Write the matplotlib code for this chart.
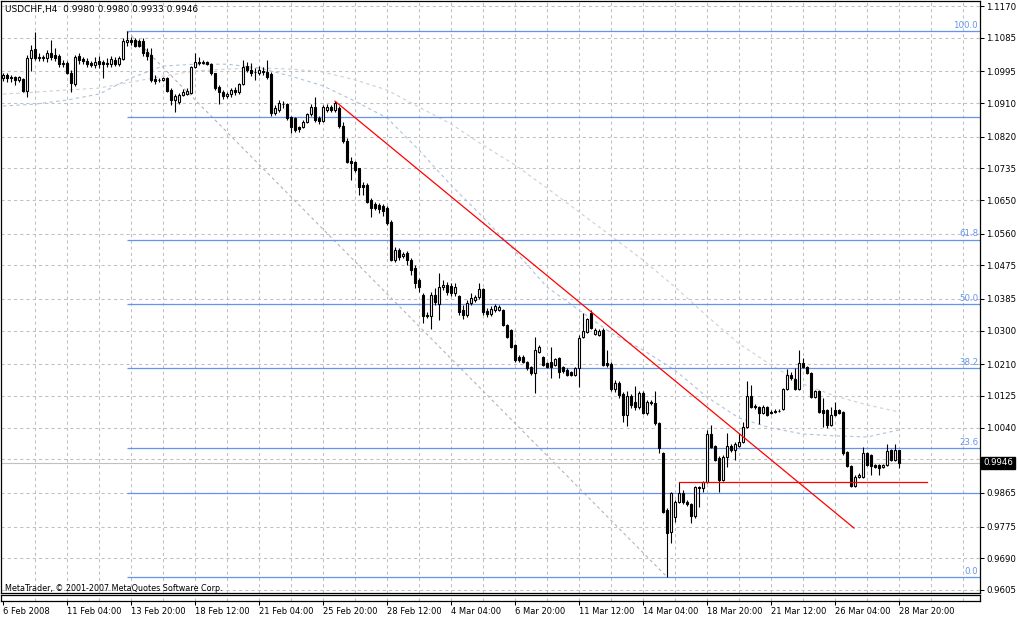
import matplotlib
matplotlib.use("Agg")
import matplotlib.pyplot as plt
import matplotlib.transforms as mtransforms
import numpy as np

plt.rcParams['font.family'] = ['DejaVu Sans']

# USDCHF H4 candles (225 bars)
opens = [
    1.0977, 1.0985, 1.0977, 1.0980, 1.0972, 1.0974, 1.0942, 1.1031, 1.1055, 1.1033,
    1.1031, 1.1031, 1.1044, 1.1039, 1.1036, 1.1017, 1.1017, 1.0990, 1.0961, 1.1036,
    1.1028, 1.1023, 1.1017, 1.1012, 1.1023, 1.1020, 1.1017, 1.1014, 1.1025, 1.1014,
    1.1028, 1.1073, 1.1079, 1.1079, 1.1076, 1.1076, 1.1047, 1.1039, 1.0974, 1.0972,
    1.0972, 1.0977, 1.0945, 1.0918, 1.0913, 1.0931, 1.0934, 1.0937, 1.1006, 1.1020,
    1.1017, 1.1020, 1.1014, 1.0990, 1.0953, 1.0939, 1.0929, 1.0934, 1.0945, 1.0939,
    1.0961, 1.1009, 1.0998, 1.0993, 1.0990, 1.0996, 1.0993, 1.0988, 1.0883, 1.0891,
    1.0907, 1.0907, 1.0872, 1.0870, 1.0846, 1.0846, 1.0859, 1.0880, 1.0899, 1.0870,
    1.0862, 1.0891, 1.0899, 1.0891, 1.0897, 1.0848, 1.0808, 1.0755, 1.0752, 1.0736,
    1.0690, 1.0690, 1.0650, 1.0639, 1.0637, 1.0634, 1.0629, 1.0591, 1.0489, 1.0516,
    1.0500, 1.0508, 1.0489, 1.0468, 1.0436, 1.0395, 1.0342, 1.0339, 1.0395, 1.0371,
    1.0417, 1.0422, 1.0420, 1.0401, 1.0393, 1.0355, 1.0342, 1.0374, 1.0382, 1.0390,
    1.0411, 1.0353, 1.0344, 1.0355, 1.0355, 1.0355, 1.0315, 1.0302, 1.0261, 1.0229,
    1.0229, 1.0216, 1.0202, 1.0186, 1.0243, 1.0229, 1.0213, 1.0216, 1.0208, 1.0227,
    1.0202, 1.0194, 1.0189, 1.0181, 1.0200, 1.0283, 1.0296, 1.0347, 1.0291, 1.0288,
    1.0302, 1.0213, 1.0210, 1.0144, 1.0160, 1.0130, 1.0074, 1.0125, 1.0109, 1.0095,
    1.0133, 1.0079, 1.0109, 1.0106, 1.0052, 0.9972, 0.9819, 0.9760, 0.9800, 0.9841,
    0.9865, 0.9841, 0.9835, 0.9803, 0.9881, 0.9878, 0.9894, 1.0023, 0.9991, 0.9959,
    0.9900, 0.9961, 0.9991, 0.9980, 0.9991, 1.0002, 1.0042, 1.0125, 1.0098, 1.0095,
    1.0079, 1.0095, 1.0082, 1.0085, 1.0085, 1.0090, 1.0144, 1.0181, 1.0170, 1.0144,
    1.0213, 1.0202, 1.0186, 1.0122, 1.0138, 1.0087, 1.0087, 1.0047, 1.0087, 1.0087,
    1.0082, 0.9975, 0.9937, 0.9884, 0.9908, 0.9908, 0.9972, 0.9967, 0.9940, 0.9940,
    0.9935, 0.9940, 0.9980, 0.9953, 0.9980,
]
highs = [
    1.0990, 1.0990, 1.0985, 1.0982, 1.0982, 1.0977, 1.1039, 1.1065, 1.1100, 1.1044,
    1.1039, 1.1052, 1.1079, 1.1057, 1.1041, 1.1025, 1.1023, 1.0998, 1.1039, 1.1044,
    1.1033, 1.1031, 1.1023, 1.1033, 1.1036, 1.1025, 1.1031, 1.1036, 1.1033, 1.1036,
    1.1084, 1.1103, 1.1087, 1.1084, 1.1081, 1.1084, 1.1057, 1.1057, 1.0985, 1.0977,
    1.0980, 1.0980, 1.0950, 1.0934, 1.0937, 1.0948, 1.0950, 1.1009, 1.1044, 1.1033,
    1.1025, 1.1023, 1.1017, 1.0990, 1.0958, 1.0945, 1.0939, 1.0950, 1.0953, 1.0964,
    1.1025, 1.1020, 1.1017, 1.1004, 1.1009, 1.1006, 1.1025, 1.0993, 1.0905, 1.0918,
    1.0915, 1.0910, 1.0875, 1.0872, 1.0848, 1.0864, 1.0883, 1.0907, 1.0926, 1.0875,
    1.0905, 1.0907, 1.0905, 1.0915, 1.0902, 1.0859, 1.0816, 1.0765, 1.0755, 1.0736,
    1.0698, 1.0696, 1.0655, 1.0645, 1.0642, 1.0639, 1.0634, 1.0596, 1.0524, 1.0521,
    1.0511, 1.0513, 1.0495, 1.0476, 1.0441, 1.0401, 1.0350, 1.0403, 1.0414, 1.0454,
    1.0436, 1.0430, 1.0428, 1.0428, 1.0395, 1.0369, 1.0382, 1.0401, 1.0395, 1.0428,
    1.0414, 1.0361, 1.0366, 1.0371, 1.0369, 1.0358, 1.0318, 1.0304, 1.0264, 1.0235,
    1.0235, 1.0219, 1.0205, 1.0283, 1.0261, 1.0232, 1.0216, 1.0256, 1.0227, 1.0229,
    1.0205, 1.0200, 1.0192, 1.0202, 1.0288, 1.0347, 1.0334, 1.0355, 1.0307, 1.0304,
    1.0307, 1.0248, 1.0216, 1.0168, 1.0165, 1.0135, 1.0138, 1.0130, 1.0152, 1.0138,
    1.0138, 1.0114, 1.0114, 1.0138, 1.0055, 0.9975, 0.9825, 0.9867, 0.9846, 0.9894,
    0.9873, 0.9846, 0.9838, 0.9884, 0.9884, 0.9897, 1.0034, 1.0047, 0.9993, 0.9964,
    0.9967, 1.0026, 0.9996, 1.0002, 1.0026, 1.0055, 1.0165, 1.0154, 1.0103, 1.0098,
    1.0101, 1.0098, 1.0087, 1.0090, 1.0090, 1.0146, 1.0197, 1.0189, 1.0200, 1.0248,
    1.0227, 1.0205, 1.0189, 1.0141, 1.0141, 1.0119, 1.0090, 1.0095, 1.0109, 1.0090,
    1.0085, 0.9977, 0.9940, 0.9913, 0.9918, 0.9988, 0.9975, 0.9969, 0.9943, 0.9943,
    0.9943, 0.9996, 0.9983, 0.9996, 0.9980,
]
lows = [
    1.0969, 1.0966, 1.0966, 1.0958, 1.0966, 1.0939, 1.0926, 1.0996, 1.1025, 1.1023,
    1.1023, 1.1020, 1.1025, 1.1023, 1.1006, 1.1006, 1.0988, 1.0939, 1.0956, 1.1014,
    1.1014, 1.1006, 1.1006, 1.1004, 1.1004, 1.0977, 1.1006, 1.1006, 1.1009, 1.1009,
    1.1025, 1.1063, 1.1065, 1.1060, 1.1060, 1.1036, 1.1025, 1.0966, 1.0961, 1.0966,
    1.0969, 1.0939, 1.0905, 1.0886, 1.0907, 1.0929, 1.0931, 1.0934, 1.1004, 1.1012,
    1.1014, 1.1012, 1.0985, 1.0945, 1.0907, 1.0921, 1.0923, 1.0926, 1.0931, 1.0934,
    1.0958, 1.0993, 1.0982, 1.0972, 1.0985, 1.0985, 1.0974, 1.0875, 1.0878, 1.0886,
    1.0897, 1.0864, 1.0830, 1.0832, 1.0832, 1.0843, 1.0856, 1.0875, 1.0859, 1.0854,
    1.0859, 1.0886, 1.0886, 1.0886, 1.0843, 1.0803, 1.0749, 1.0704, 1.0725, 1.0663,
    1.0663, 1.0642, 1.0604, 1.0623, 1.0615, 1.0607, 1.0583, 1.0487, 1.0484, 1.0489,
    1.0495, 1.0476, 1.0449, 1.0414, 1.0403, 1.0320, 1.0334, 1.0304, 1.0369, 1.0328,
    1.0409, 1.0395, 1.0393, 1.0393, 1.0342, 1.0331, 1.0336, 1.0369, 1.0377, 1.0385,
    1.0342, 1.0336, 1.0339, 1.0350, 1.0353, 1.0312, 1.0280, 1.0253, 1.0216, 1.0216,
    1.0213, 1.0194, 1.0181, 1.0133, 1.0240, 1.0205, 1.0200, 1.0173, 1.0205, 1.0173,
    1.0186, 1.0178, 1.0178, 1.0178, 1.0149, 1.0280, 1.0294, 1.0304, 1.0288, 1.0285,
    1.0205, 1.0202, 1.0138, 1.0135, 1.0119, 1.0055, 1.0044, 1.0093, 1.0087, 1.0090,
    1.0077, 1.0074, 1.0101, 1.0047, 0.9972, 0.9811, 0.9640, 0.9731, 0.9787, 0.9838,
    0.9835, 0.9830, 0.9784, 0.9798, 0.9827, 0.9867, 0.9892, 0.9985, 0.9951, 0.9867,
    0.9897, 0.9935, 0.9975, 0.9953, 0.9988, 0.9999, 1.0039, 1.0093, 1.0090, 1.0050,
    1.0077, 1.0071, 1.0077, 1.0079, 1.0082, 1.0087, 1.0141, 1.0168, 1.0141, 1.0141,
    1.0200, 1.0184, 1.0119, 1.0119, 1.0079, 1.0042, 1.0039, 1.0044, 1.0071, 1.0077,
    0.9967, 0.9935, 0.9881, 0.9881, 0.9905, 0.9905, 0.9937, 0.9913, 0.9932, 0.9913,
    0.9932, 0.9937, 0.9951, 0.9951, 0.9933,
]
closes = [
    1.0985, 1.0977, 1.0980, 1.0972, 1.0980, 1.0942, 1.1031, 1.1052, 1.1031, 1.1031,
    1.1033, 1.1044, 1.1033, 1.1031, 1.1014, 1.1014, 1.0990, 1.0964, 1.1033, 1.1025,
    1.1023, 1.1014, 1.1012, 1.1020, 1.1014, 1.1014, 1.1014, 1.1028, 1.1014, 1.1031,
    1.1076, 1.1079, 1.1073, 1.1063, 1.1063, 1.1044, 1.1036, 1.0972, 1.0969, 1.0972,
    1.0977, 1.0942, 1.0918, 1.0929, 1.0931, 1.0939, 1.0942, 1.1006, 1.1020, 1.1017,
    1.1020, 1.1014, 1.0990, 1.0950, 1.0939, 1.0929, 1.0934, 1.0945, 1.0939, 1.0961,
    1.1006, 1.0998, 1.0990, 1.0993, 1.0998, 1.0993, 1.0980, 1.0883, 1.0897, 1.0910,
    1.0907, 1.0870, 1.0846, 1.0838, 1.0840, 1.0859, 1.0880, 1.0899, 1.0864, 1.0862,
    1.0899, 1.0899, 1.0891, 1.0910, 1.0848, 1.0808, 1.0752, 1.0749, 1.0730, 1.0685,
    1.0685, 1.0645, 1.0629, 1.0629, 1.0626, 1.0621, 1.0588, 1.0489, 1.0516, 1.0497,
    1.0505, 1.0489, 1.0462, 1.0428, 1.0417, 1.0339, 1.0339, 1.0395, 1.0377, 1.0417,
    1.0422, 1.0403, 1.0401, 1.0417, 1.0350, 1.0342, 1.0374, 1.0387, 1.0390, 1.0411,
    1.0350, 1.0344, 1.0358, 1.0366, 1.0363, 1.0315, 1.0283, 1.0256, 1.0221, 1.0221,
    1.0216, 1.0200, 1.0186, 1.0248, 1.0256, 1.0208, 1.0202, 1.0202, 1.0224, 1.0189,
    1.0192, 1.0181, 1.0181, 1.0200, 1.0280, 1.0299, 1.0331, 1.0307, 1.0302, 1.0299,
    1.0208, 1.0208, 1.0144, 1.0160, 1.0127, 1.0074, 1.0125, 1.0101, 1.0095, 1.0133,
    1.0079, 1.0109, 1.0106, 1.0052, 0.9985, 0.9814, 0.9758, 0.9865, 0.9841, 0.9865,
    0.9841, 0.9835, 0.9803, 0.9881, 0.9878, 0.9894, 1.0023, 0.9988, 0.9953, 0.9900,
    0.9961, 0.9991, 0.9980, 0.9996, 1.0002, 1.0042, 1.0125, 1.0095, 1.0095, 1.0079,
    1.0095, 1.0074, 1.0079, 1.0082, 1.0084, 1.0144, 1.0181, 1.0173, 1.0144, 1.0213,
    1.0202, 1.0186, 1.0122, 1.0138, 1.0082, 1.0079, 1.0047, 1.0074, 1.0074, 1.0079,
    0.9972, 0.9937, 0.9884, 0.9908, 0.9913, 0.9972, 0.9940, 0.9937, 0.9935, 0.9932,
    0.9940, 0.9977, 0.9953, 0.9980, 0.9946,
]

# two dotted moving averages, read every 8 bars
ma_bars = list(range(0, 225, 8))
ma_fast = [1.0902, 1.0907, 1.0918, 1.0934, 1.0977, 1.1009, 1.1014, 1.1014, 1.1004, 1.0982,
           1.0956, 1.0915, 1.0870, 1.0784, 1.0690, 1.0604, 1.0513, 1.0417, 1.0355, 1.0294,
           1.0248, 1.0194, 1.0122, 1.0066, 1.0039, 1.0023, 1.0018, 1.0015, 1.0034]
ma_slow = [1.0934, 1.0939, 1.0945, 1.0950, 1.0966, 1.0982, 1.0996, 1.1001, 1.1004, 1.1001,
           1.0993, 1.0972, 1.0945, 1.0899, 1.0854, 1.0797, 1.0744, 1.0682, 1.0618, 1.0554,
           1.0489, 1.0417, 1.0339, 1.0265, 1.0208, 1.0157, 1.0125, 1.0101, 1.0082]

# fibo retracement anchors (bar, price)
fib_start = (31, 1.1103)
fib_end = (166, 0.9640)
fib_ratios = [100.0, 61.8, 50.0, 38.2, 23.6, 0.0]
extra_levels = [1.0872, 0.9866]

# red trend line and red horizontal
trend_pts = ([83, 212.75], [1.0915, 0.9771])
hline_pts = ([169, 231], [0.9895, 0.9895])

bid = 0.9946
header = "USDCHF,H4  0.9980 0.9980 0.9933 0.9946"

y_ticks = [1.1170, 1.1085, 1.0995, 1.0910, 1.0820, 1.0735, 1.0650, 1.0560, 1.0475,
           1.0385, 1.0300, 1.0210, 1.0125, 1.0040, 0.9865, 0.9775, 0.9690, 0.9605]
grid_prices = y_ticks + [0.9955]
x_label_bars = list(range(0, 225, 16))
x_labels = ["6 Feb 2008", "11 Feb 04:00", "13 Feb 20:00", "18 Feb 12:00", "21 Feb 04:00",
            "25 Feb 20:00", "28 Feb 12:00", "4 Mar 04:00", "6 Mar 20:00", "11 Mar 12:00",
            "14 Mar 04:00", "18 Mar 20:00", "21 Mar 12:00", "26 Mar 04:00", "28 Mar 20:00"]

W, H = 1018, 619
fig = plt.figure(figsize=(W / 100, H / 100), dpi=100)


def px_axes(x0, y0, x1, y1):
    return fig.add_axes([x0 / W, 1 - y1 / H, (x1 - x0) / W, (y1 - y0) / H])


ax = px_axes(1, 1, 980, 593)
sub = px_axes(1, 595, 980, 601)

xmin, xmax = -0.5, -0.5 + 979 / 4
ax.set_xlim(xmin, xmax)
ax.set_ylim(0.95969, 1.11834)
sub.set_xlim(xmin, xmax)
sub.set_ylim(0, 1)

grid_col = "#c0c0c0"
dash = (0, (3, 3))
for b in range(8, 245, 8):
    ax.axvline(b, color=grid_col, lw=0.75, ls=dash, zorder=0)
    sub.axvline(b, color=grid_col, lw=0.75, ls=dash, zorder=0)
for p in grid_prices:
    ax.axhline(p, color=grid_col, lw=0.75, ls=dash, zorder=0)

# moving averages
ax.plot(ma_bars, ma_slow, color="#cfcfcf", lw=0.8, ls=dash, zorder=1)
ax.plot(ma_bars, ma_fast, color="#aec2dc", lw=0.8, ls=dash, zorder=1)

# fibo
fib_col = "#6495ed"
lo, hi = fib_end[1], fib_start[1]
ax.plot([fib_start[0], fib_end[0]], [fib_start[1], fib_end[1]], color="#b0b0b0", lw=0.75, ls=dash, zorder=1)
trans = mtransforms.blended_transform_factory(ax.transAxes, ax.transData)
for r in fib_ratios:
    lev = lo + r / 100 * (hi - lo)
    ax.hlines(lev, fib_start[0], xmax, color=fib_col, lw=0.9, zorder=2)
    ax.text(0.998, lev + 0.0003, "%.1f" % r, transform=trans, ha="right", va="bottom",
            color=fib_col, fontsize=6.2)
for lev in extra_levels:
    ax.hlines(lev, fib_start[0], xmax, color=fib_col, lw=0.9, zorder=2)

# bid line
ax.axhline(bid, color="#c0c0c0", lw=0.8, zorder=1)

# candles
x = np.arange(len(closes))
o = np.array(opens)
c = np.array(closes)
h = np.maximum(np.array(highs), np.maximum(o, c))
l = np.minimum(np.array(lows), np.minimum(o, c))
ax.vlines(x, l, h, colors="black", lw=0.8, zorder=3)
up = c >= o
ax.bar(x[up], (c - o)[up], bottom=o[up], width=0.5, color="white", edgecolor="black", lw=0.8, zorder=4)
ax.bar(x[~up], (o - c)[~up], bottom=c[~up], width=0.5, color="black", edgecolor="black", lw=0.8, zorder=4)

# trend lines
ax.plot(*trend_pts, color="red", lw=0.9, zorder=5)
ax.plot(*hline_pts, color="red", lw=0.9, zorder=5)

# axes styling
for a in (ax, sub):
    for s in a.spines.values():
        s.set_color("black")
        s.set_linewidth(0.9)
ax.set_xticks([])
ax.yaxis.tick_right()
ax.set_yticks(y_ticks)
ax.set_yticklabels(["%.4f" % t for t in y_ticks])
ax.tick_params(axis="y", direction="out", length=3, width=0.75, pad=1.5, labelsize=6.2)

sub.set_yticks([])
sub.set_xticks(x_label_bars)
sub.set_xticklabels(x_labels)
sub.tick_params(axis="x", direction="out", length=3, width=0.75, pad=1.5, labelsize=6)
for lbl in sub.get_xticklabels():
    lbl.set_horizontalalignment("left")

ax.text(1.003, bid, "%.4f" % bid, transform=trans, ha="left", va="center", color="white",
        fontsize=6.2, bbox=dict(boxstyle="square,pad=0.2", fc="black", ec="black"))

ax.text(0.004, 0.985, header, transform=ax.transAxes, ha="left", va="center", fontsize=6.5)
ax.text(0.004, 0.007, "MetaTrader, \u00a9 2001-2007 MetaQuotes Software Corp.", transform=ax.transAxes,
        ha="left", va="center", fontsize=5.8)

fig.savefig("out.png", dpi=100, facecolor="white")
